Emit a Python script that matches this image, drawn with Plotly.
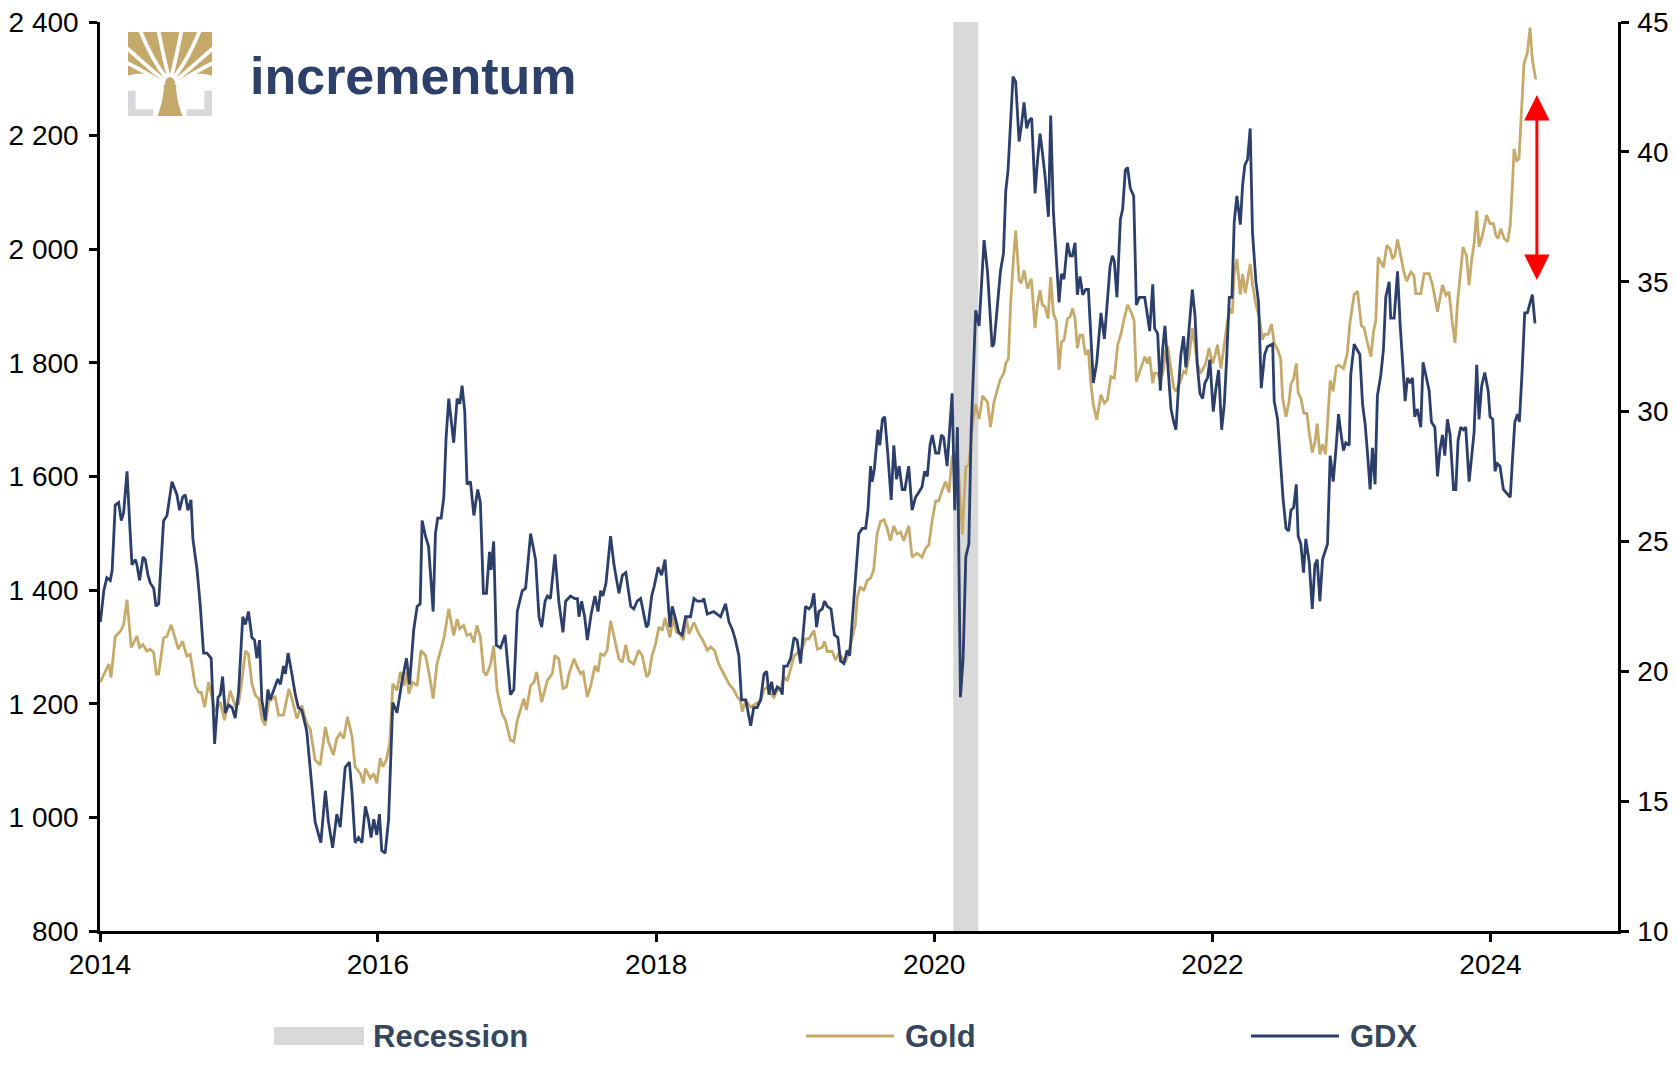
import base64
from datetime import datetime
import plotly.graph_objects as go

# ---------------- DATA (decimal year, value) ----------------
gold_t = [2014.004, 2014.064, 2014.080, 2014.111, 2014.148, 2014.172, 2014.195, 2014.227, 2014.267, 2014.287,
          2014.311, 2014.339, 2014.363, 2014.387, 2014.406, 2014.423, 2014.459, 2014.483, 2014.514, 2014.543,
          2014.567, 2014.596, 2014.627, 2014.651, 2014.687, 2014.711, 2014.730, 2014.754, 2014.783, 2014.831,
          2014.867, 2014.898, 2014.939, 2014.975, 2014.999, 2015.023, 2015.047, 2015.071, 2015.095, 2015.119,
          2015.143, 2015.167, 2015.191, 2015.215, 2015.239, 2015.263, 2015.287, 2015.323, 2015.359, 2015.383,
          2015.418, 2015.454, 2015.490, 2015.514, 2015.550, 2015.586, 2015.622, 2015.646, 2015.682, 2015.706,
          2015.730, 2015.754, 2015.783, 2015.814, 2015.838, 2015.874, 2015.898, 2015.910, 2015.946, 2015.970,
          2015.994, 2016.018, 2016.037, 2016.061, 2016.085, 2016.109, 2016.138, 2016.162, 2016.191, 2016.210,
          2016.222, 2016.251, 2016.282, 2016.311, 2016.342, 2016.373, 2016.397, 2016.426, 2016.450, 2016.474,
          2016.510, 2016.546, 2016.569, 2016.589, 2016.617, 2016.641, 2016.665, 2016.689, 2016.713, 2016.737,
          2016.761, 2016.781, 2016.809, 2016.833, 2016.857, 2016.893, 2016.917, 2016.953, 2016.977, 2017.001,
          2017.049, 2017.066, 2017.097, 2017.121, 2017.140, 2017.176, 2017.217, 2017.253, 2017.272, 2017.301,
          2017.330, 2017.354, 2017.373, 2017.409, 2017.433, 2017.457, 2017.476, 2017.505, 2017.529, 2017.560,
          2017.582, 2017.601, 2017.625, 2017.649, 2017.673, 2017.701, 2017.733, 2017.757, 2017.781, 2017.805,
          2017.840, 2017.876, 2017.900, 2017.932, 2017.948, 2017.972, 2017.996, 2018.020, 2018.044, 2018.064,
          2018.099, 2018.123, 2018.147, 2018.171, 2018.195, 2018.217, 2018.236, 2018.272, 2018.308, 2018.339,
          2018.368, 2018.392, 2018.421, 2018.452, 2018.488, 2018.524, 2018.560, 2018.584, 2018.608, 2018.620,
          2018.644, 2018.680, 2018.716, 2018.752, 2018.776, 2018.800, 2018.824, 2018.848, 2018.872, 2018.896,
          2018.920, 2018.944, 2018.968, 2018.992, 2019.028, 2019.052, 2019.076, 2019.100, 2019.135, 2019.159,
          2019.195, 2019.212, 2019.231, 2019.267, 2019.291, 2019.315, 2019.339, 2019.363, 2019.387, 2019.411,
          2019.435, 2019.447, 2019.471, 2019.495, 2019.519, 2019.543, 2019.567, 2019.591, 2019.615, 2019.639,
          2019.663, 2019.687, 2019.711, 2019.735, 2019.759, 2019.783, 2019.819, 2019.843, 2019.879, 2019.915,
          2019.939, 2019.963, 2019.987, 2020.011, 2020.035, 2020.059, 2020.083, 2020.107, 2020.131, 2020.167,
          2020.203, 2020.227, 2020.251, 2020.275, 2020.298, 2020.323, 2020.347, 2020.383, 2020.407, 2020.431,
          2020.455, 2020.474, 2020.502, 2020.514, 2020.534, 2020.550, 2020.570, 2020.586, 2020.610, 2020.627,
          2020.646, 2020.670, 2020.699, 2020.725, 2020.742, 2020.761, 2020.778, 2020.797, 2020.819, 2020.838,
          2020.857, 2020.879, 2020.898, 2020.915, 2020.934, 2020.958, 2020.977, 2020.994, 2021.011, 2021.030,
          2021.049, 2021.066, 2021.085, 2021.107, 2021.126, 2021.145, 2021.169, 2021.198, 2021.222, 2021.246,
          2021.270, 2021.294, 2021.318, 2021.342, 2021.366, 2021.390, 2021.414, 2021.438, 2021.454, 2021.474,
          2021.490, 2021.514, 2021.534, 2021.550, 2021.570, 2021.586, 2021.606, 2021.625, 2021.649, 2021.665,
          2021.682, 2021.702, 2021.721, 2021.738, 2021.754, 2021.774, 2021.793, 2021.809, 2021.833, 2021.855,
          2021.874, 2021.893, 2021.917, 2021.953, 2021.977, 2022.001, 2022.018, 2022.037, 2022.061, 2022.085,
          2022.109, 2022.128, 2022.145, 2022.157, 2022.176, 2022.200, 2022.217, 2022.236, 2022.253, 2022.272,
          2022.289, 2022.313, 2022.337, 2022.361, 2022.377, 2022.402, 2022.426, 2022.445, 2022.469, 2022.493,
          2022.505, 2022.529, 2022.553, 2022.565, 2022.584, 2022.603, 2022.617, 2022.636, 2022.660, 2022.680,
          2022.696, 2022.720, 2022.737, 2022.756, 2022.773, 2022.792, 2022.816, 2022.847, 2022.871, 2022.893,
          2022.912, 2022.943, 2022.972, 2022.991, 2023.020, 2023.044, 2023.073, 2023.092, 2023.116, 2023.140,
          2023.159, 2023.176, 2023.193, 2023.212, 2023.231, 2023.255, 2023.279, 2023.296, 2023.313, 2023.332,
          2023.356, 2023.380, 2023.399, 2023.428, 2023.452, 2023.464, 2023.500, 2023.524, 2023.560, 2023.584,
          2023.620, 2023.656, 2023.680, 2023.704, 2023.728, 2023.747, 2023.764, 2023.783, 2023.805, 2023.829,
          2023.848, 2023.865, 2023.884, 2023.903, 2023.920, 2023.944, 2023.975, 2023.999, 2024.023, 2024.040,
          2024.056, 2024.075, 2024.099, 2024.124, 2024.143, 2024.159, 2024.171, 2024.191, 2024.207, 2024.219,
          2024.243, 2024.267, 2024.286, 2024.303, 2024.327]
gold_v = [1238, 1270, 1246, 1318, 1328, 1339, 1383, 1299, 1319, 1299,
          1304, 1293, 1296, 1290, 1252, 1252, 1316, 1319, 1339, 1313,
          1296, 1310, 1284, 1287, 1232, 1220, 1220, 1194, 1238, 1186,
          1203, 1171, 1223, 1197, 1200, 1243, 1293, 1287, 1235, 1215,
          1209, 1174, 1162, 1203, 1209, 1212, 1180, 1180, 1226, 1209,
          1174, 1197, 1165, 1156, 1101, 1092, 1159, 1133, 1110, 1139,
          1148, 1139, 1177, 1142, 1089, 1077, 1060, 1086, 1069, 1077,
          1060, 1104, 1089, 1101, 1130, 1235, 1224, 1256, 1232, 1256,
          1218, 1238, 1232, 1294, 1285, 1247, 1209, 1270, 1294, 1314,
          1367, 1320, 1349, 1332, 1338, 1320, 1323, 1308, 1338, 1317,
          1256, 1250, 1270, 1302, 1224, 1183, 1171, 1136, 1133, 1171,
          1209, 1189, 1232, 1238, 1256, 1203, 1241, 1253, 1285, 1279,
          1227, 1229, 1253, 1279, 1264, 1253, 1256, 1212, 1232, 1267,
          1256, 1288, 1285, 1294, 1346, 1317, 1279, 1273, 1304, 1276,
          1270, 1294, 1285, 1247, 1253, 1285, 1305, 1335, 1329, 1351,
          1317, 1352, 1326, 1323, 1312, 1352, 1323, 1343, 1323, 1311,
          1294, 1300, 1294, 1270, 1253, 1235, 1224, 1212, 1206, 1186,
          1206, 1194, 1200, 1205, 1225, 1229, 1218, 1211, 1225, 1222,
          1248, 1240, 1262, 1284, 1292, 1296, 1314, 1314, 1329, 1296,
          1299, 1310, 1292, 1292, 1277, 1288, 1281, 1273, 1292, 1318,
          1340, 1388, 1406, 1399, 1417, 1421, 1436, 1499, 1521, 1524,
          1510, 1487, 1513, 1499, 1502, 1487, 1513, 1458, 1465, 1458,
          1473, 1480, 1524, 1557, 1557, 1576, 1591, 1572, 1635, 1642,
          1498, 1617, 1620, 1687, 1727, 1701, 1742, 1731, 1687, 1731,
          1753, 1770, 1782, 1799, 1808, 1908, 1981, 2033, 1946, 1940,
          1963, 1931, 1948, 1861, 1902, 1928, 1902, 1899, 1878, 1951,
          1887, 1873, 1788, 1837, 1840, 1878, 1881, 1896, 1878, 1826,
          1849, 1849, 1814, 1823, 1767, 1726, 1700, 1744, 1729, 1735,
          1776, 1773, 1832, 1849, 1878, 1902, 1890, 1875, 1767, 1782,
          1791, 1811, 1799, 1811, 1764, 1782, 1782, 1767, 1788, 1823,
          1826, 1788, 1756, 1750, 1758, 1770, 1785, 1782, 1814, 1861,
          1830, 1799, 1781, 1799, 1826, 1799, 1811, 1832, 1790, 1835,
          1871, 1896, 1887, 1956, 1983, 1920, 1956, 1923, 1944, 1974,
          1938, 1902, 1880, 1841, 1850, 1850, 1868, 1835, 1823, 1808,
          1738, 1705, 1732, 1763, 1772, 1799, 1747, 1738, 1711, 1711,
          1678, 1642, 1660, 1693, 1639, 1657, 1639, 1769, 1750, 1793,
          1796, 1790, 1817, 1871, 1920, 1926, 1865, 1862, 1835, 1811,
          1856, 1874, 1986, 1977, 1968, 2007, 2001, 1983, 1989, 2017,
          1989, 1959, 1944, 1960, 1954, 1922, 1922, 1957, 1957, 1937,
          1890, 1937, 1919, 1925, 1870, 1835, 1902, 1954, 2004, 1989,
          1937, 1978, 2010, 2068, 2004, 2025, 2060, 2045, 2045, 2025,
          2019, 2036, 2019, 2013, 2042, 2118, 2177, 2156, 2159, 2223,
          2326, 2346, 2390, 2334, 2299]

gdx_t = [2014.004, 2014.028, 2014.052, 2014.076, 2014.088, 2014.111, 2014.135, 2014.155, 2014.171, 2014.195,
         2014.219, 2014.231, 2014.255, 2014.267, 2014.287, 2014.311, 2014.327, 2014.347, 2014.363, 2014.387,
         2014.404, 2014.423, 2014.459, 2014.483, 2014.519, 2014.543, 2014.555, 2014.574, 2014.596, 2014.615,
         2014.634, 2014.656, 2014.670, 2014.699, 2014.723, 2014.747, 2014.771, 2014.802, 2014.826, 2014.850,
         2014.867, 2014.884, 2014.903, 2014.927, 2014.951, 2014.975, 2014.999, 2015.030, 2015.047, 2015.071,
         2015.095, 2015.114, 2015.131, 2015.150, 2015.167, 2015.191, 2015.210, 2015.227, 2015.251, 2015.282,
         2015.299, 2015.323, 2015.335, 2015.354, 2015.383, 2015.406, 2015.430, 2015.454, 2015.490, 2015.514,
         2015.526, 2015.550, 2015.591, 2015.622, 2015.646, 2015.675, 2015.706, 2015.730, 2015.766, 2015.797,
         2015.814, 2015.838, 2015.862, 2015.886, 2015.910, 2015.934, 2015.953, 2015.970, 2015.994, 2016.013,
         2016.030, 2016.054, 2016.078, 2016.109, 2016.138, 2016.174, 2016.205, 2016.229, 2016.258, 2016.282,
         2016.306, 2016.318, 2016.342, 2016.366, 2016.397, 2016.414, 2016.430, 2016.454, 2016.474, 2016.490,
         2016.510, 2016.546, 2016.569, 2016.589, 2016.605, 2016.625, 2016.641, 2016.665, 2016.689, 2016.718,
         2016.737, 2016.757, 2016.781, 2016.802, 2016.814, 2016.833, 2016.852, 2016.881, 2016.915, 2016.953,
         2016.977, 2017.001, 2017.037, 2017.061, 2017.097, 2017.133, 2017.157, 2017.176, 2017.200, 2017.217,
         2017.241, 2017.272, 2017.301, 2017.330, 2017.349, 2017.385, 2017.414, 2017.433, 2017.445, 2017.464,
         2017.486, 2017.505, 2017.534, 2017.560, 2017.582, 2017.601, 2017.617, 2017.641, 2017.673, 2017.697,
         2017.733, 2017.757, 2017.781, 2017.817, 2017.840, 2017.864, 2017.888, 2017.929, 2017.944, 2017.968,
         2017.989, 2018.016, 2018.040, 2018.064, 2018.099, 2018.116, 2018.140, 2018.164, 2018.188, 2018.212,
         2018.248, 2018.272, 2018.296, 2018.332, 2018.344, 2018.368, 2018.416, 2018.464, 2018.500, 2018.524,
         2018.548, 2018.572, 2018.596, 2018.615, 2018.644, 2018.680, 2018.704, 2018.728, 2018.752, 2018.776,
         2018.795, 2018.812, 2018.831, 2018.848, 2018.872, 2018.896, 2018.908, 2018.920, 2018.944, 2018.968,
         2018.992, 2019.016, 2019.040, 2019.059, 2019.076, 2019.100, 2019.116, 2019.135, 2019.155, 2019.171,
         2019.195, 2019.212, 2019.231, 2019.260, 2019.284, 2019.308, 2019.327, 2019.351, 2019.375, 2019.394,
         2019.411, 2019.435, 2019.459, 2019.483, 2019.507, 2019.524, 2019.543, 2019.555, 2019.572, 2019.596,
         2019.610, 2019.630, 2019.646, 2019.668, 2019.692, 2019.711, 2019.730, 2019.749, 2019.771, 2019.790,
         2019.819, 2019.843, 2019.867, 2019.891, 2019.915, 2019.934, 2019.951, 2019.970, 2019.989, 2020.011,
         2020.035, 2020.052, 2020.071, 2020.095, 2020.111, 2020.131, 2020.150, 2020.167, 2020.191, 2020.210,
         2020.227, 2020.251, 2020.267, 2020.298, 2020.323, 2020.358, 2020.383, 2020.418, 2020.430, 2020.455,
         2020.478, 2020.498, 2020.514, 2020.531, 2020.546, 2020.567, 2020.586, 2020.610, 2020.627, 2020.646,
         2020.665, 2020.682, 2020.701, 2020.725, 2020.742, 2020.761, 2020.778, 2020.797, 2020.821, 2020.838,
         2020.857, 2020.874, 2020.898, 2020.915, 2020.934, 2020.958, 2020.977, 2020.994, 2021.011, 2021.030,
         2021.049, 2021.066, 2021.090, 2021.107, 2021.126, 2021.145, 2021.169, 2021.198, 2021.222, 2021.246,
         2021.265, 2021.282, 2021.294, 2021.313, 2021.337, 2021.354, 2021.373, 2021.390, 2021.409, 2021.433,
         2021.454, 2021.474, 2021.498, 2021.514, 2021.534, 2021.550, 2021.570, 2021.586, 2021.606, 2021.625,
         2021.642, 2021.658, 2021.678, 2021.702, 2021.721, 2021.738, 2021.754, 2021.774, 2021.793, 2021.809,
         2021.833, 2021.855, 2021.874, 2021.893, 2021.912, 2021.929, 2021.946, 2021.965, 2021.982, 2022.006,
         2022.025, 2022.044, 2022.066, 2022.085, 2022.104, 2022.121, 2022.140, 2022.157, 2022.176, 2022.200,
         2022.217, 2022.233, 2022.253, 2022.272, 2022.289, 2022.313, 2022.332, 2022.353, 2022.377, 2022.397,
         2022.433, 2022.445, 2022.469, 2022.488, 2022.509, 2022.529, 2022.548, 2022.565, 2022.584, 2022.603,
         2022.617, 2022.636, 2022.655, 2022.672, 2022.696, 2022.720, 2022.737, 2022.756, 2022.773, 2022.792,
         2022.811, 2022.828, 2022.847, 2022.871, 2022.893, 2022.907, 2022.924, 2022.943, 2022.960, 2022.984,
         2022.996, 2023.020, 2023.039, 2023.063, 2023.080, 2023.099, 2023.116, 2023.135, 2023.152, 2023.171,
         2023.188, 2023.212, 2023.231, 2023.248, 2023.272, 2023.284, 2023.308, 2023.332, 2023.351, 2023.368,
         2023.387, 2023.404, 2023.423, 2023.440, 2023.457, 2023.476, 2023.500, 2023.517, 2023.536, 2023.560,
         2023.577, 2023.601, 2023.620, 2023.637, 2023.656, 2023.673, 2023.692, 2023.711, 2023.735, 2023.752,
         2023.769, 2023.788, 2023.807, 2023.824, 2023.848, 2023.867, 2023.884, 2023.903, 2023.920, 2023.939,
         2023.960, 2023.984, 2023.999, 2024.018, 2024.035, 2024.051, 2024.071, 2024.095, 2024.124, 2024.143,
         2024.159, 2024.176, 2024.195, 2024.210, 2024.227, 2024.248, 2024.267, 2024.286, 2024.303, 2024.322]
gdx_v = [21.9, 23.1, 23.6, 23.5, 23.9, 26.4, 26.5, 25.8, 26.1, 27.7,
         25.4, 24.1, 24.3, 24.1, 23.5, 24.4, 24.3, 23.7, 23.4, 23.2,
         22.5, 22.6, 25.8, 26.0, 27.3, 26.9, 26.8, 26.2, 26.7, 26.8,
         26.2, 26.6, 25.1, 23.9, 22.6, 20.7, 20.7, 20.5, 17.2, 19.0,
         19.1, 19.8, 18.4, 18.7, 18.6, 18.2, 19.2, 22.1, 21.8, 22.3,
         21.3, 21.2, 20.5, 21.2, 18.9, 18.1, 19.3, 18.9, 19.3, 19.7,
         19.5, 20.2, 19.9, 20.7, 19.9, 19.1, 18.6, 18.5, 17.7, 16.3,
         15.6, 14.2, 13.4, 15.4, 14.2, 13.2, 14.5, 14.0, 16.3, 16.5,
         15.3, 13.4, 13.6, 13.4, 14.8, 14.3, 13.6, 14.3, 13.7, 14.5,
         13.1, 13.0, 14.3, 18.8, 18.4, 19.6, 20.5, 19.5, 21.6, 22.5,
         22.6, 25.8, 25.2, 24.8, 22.3, 25.3, 25.9, 25.9, 26.7, 29.0,
         30.5, 28.8, 30.5, 30.3, 31.0, 30.0, 27.2, 27.3, 26.0, 27.0,
         26.5, 23.0, 23.0, 24.6, 23.9, 25.0, 21.0, 20.9, 21.4, 19.1,
         19.3, 22.3, 23.1, 23.2, 25.3, 24.3, 22.1, 21.7, 22.7, 22.9,
         22.8, 24.5, 22.7, 21.5, 22.7, 22.9, 22.8, 22.8, 22.1, 22.7,
         22.1, 21.2, 22.2, 22.9, 22.3, 23.1, 22.9, 23.4, 25.2, 24.1,
         23.0, 23.7, 23.8, 22.5, 22.4, 22.7, 22.8, 21.7, 21.8, 22.9,
         23.3, 24.0, 23.7, 24.3, 21.7, 22.5, 22.0, 21.5, 21.4, 22.1,
         22.1, 22.8, 22.7, 22.7, 22.8, 22.2, 22.3, 22.1, 22.6, 21.9,
         21.6, 21.2, 20.6, 18.9, 18.9, 17.9, 18.6, 18.6, 18.9, 19.9,
         20.0, 19.1, 19.6, 19.1, 19.4, 19.3, 19.1, 20.2, 20.2, 20.5,
         21.3, 21.2, 20.3, 21.5, 22.5, 22.4, 22.5, 23.0, 21.7, 22.3,
         22.4, 22.7, 22.5, 22.4, 21.4, 21.3, 20.4, 20.3, 20.8, 20.6,
         22.0, 23.3, 25.3, 25.5, 25.5, 26.2, 27.9, 27.3, 27.8, 29.3,
         28.7, 29.7, 29.8, 28.4, 26.6, 28.7, 27.4, 27.9, 27.0, 27.0,
         27.9, 26.2, 26.7, 26.9, 27.1, 27.7, 27.5, 28.7, 29.1, 28.4,
         28.4, 29.1, 29.0, 27.9, 29.1, 30.7, 26.2, 29.4, 19.0, 20.5,
         24.4, 24.9, 29.2, 33.9, 33.3, 36.6, 35.4, 32.5, 32.6, 34.2,
         35.4, 36.1, 38.5, 39.3, 40.9, 42.9, 42.7, 40.4, 41.0, 41.9,
         40.9, 41.2, 41.3, 38.4, 39.6, 40.7, 40.0, 39.1, 37.5, 41.4,
         37.7, 36.1, 34.2, 35.3, 35.1, 36.5, 36.0, 36.0, 36.5, 34.5,
         35.2, 34.5, 34.7, 34.7, 33.2, 31.1, 31.9, 33.8, 32.8, 34.5,
         35.6, 36.0, 35.8, 34.4, 37.4, 37.8, 39.3, 39.4, 38.6, 38.3,
         34.1, 34.4, 34.4, 34.4, 33.7, 33.1, 34.9, 33.2, 33.0, 30.8,
         32.4, 33.3, 31.9, 30.1, 29.6, 29.3, 30.8, 32.2, 32.9, 31.7,
         33.3, 34.7, 33.7, 31.8, 30.7, 30.5, 31.1, 31.3, 32.0, 30.0,
         30.9, 31.6, 29.3, 30.3, 32.0, 34.4, 34.4, 37.3, 38.3, 37.2,
         38.7, 39.5, 39.7, 40.9, 36.9, 35.0, 34.2, 30.9, 32.2, 32.5,
         32.6, 30.4, 29.7, 28.0, 26.7, 25.5, 25.4, 26.2, 26.3, 27.2,
         25.2, 24.9, 23.8, 25.1, 24.2, 22.4, 24.1, 24.3, 22.7, 24.3,
         24.6, 24.9, 28.3, 27.3, 28.7, 29.9, 29.2, 28.5, 28.8, 28.7,
         31.4, 32.6, 32.4, 32.2, 30.3, 29.5, 28.4, 27.0, 28.6, 27.2,
         30.6, 31.4, 32.4, 34.4, 35.0, 33.6, 33.6, 35.4, 33.3, 32.0,
         30.4, 31.3, 31.1, 31.3, 29.8, 30.1, 29.4, 31.9, 31.4, 30.8,
         29.6, 29.4, 27.5, 28.5, 29.1, 28.3, 29.7, 29.1, 27.0, 27.0,
         28.9, 29.4, 29.3, 29.4, 27.3, 28.5, 29.2, 31.8, 29.7, 31.0,
         31.5, 30.8, 29.8, 29.7, 27.7, 28.0, 27.9, 27.0, 26.8, 26.7,
         28.2, 29.6, 29.9, 29.6, 31.5, 33.8, 33.8, 34.2, 34.5, 33.4]

recession_start = "2020-02-20"
recession_end = "2020-04-26"

# gap marker (double arrow) between gold and GDX, in left-axis (gold) units
arrow_date = "2024-05-02"
arrow_top = 2274
arrow_bottom = 1946

GOLD = "#c5aa6b"
NAVY = "#2c3f6b"
LEGEND_TXT = "#36475c"
FONT = "Liberation Sans, Arial, sans-serif"


def dec_to_date(t):
    y = int(t)
    a = datetime(y, 1, 1)
    b = datetime(y + 1, 1, 1)
    return (a + (b - a) * (t - y)).strftime("%Y-%m-%d")


gold_x = [dec_to_date(t) for t in gold_t]
gdx_x = [dec_to_date(t) for t in gdx_t]

fig = go.Figure()
fig.add_trace(go.Scatter(x=gold_x, y=gold_v, mode="lines", name="Gold",
                         line=dict(color=GOLD, width=2.8), yaxis="y", showlegend=False))
fig.add_trace(go.Scatter(x=gdx_x, y=gdx_v, mode="lines", name="GDX",
                         line=dict(color=NAVY, width=2.8), yaxis="y2", showlegend=False))

# page has an 8px body margin: figure is sized so the page fits the 1677x1065 window
OFF = 8
W, H = 1661, 1049
ML, MR, MT, MB = 92, 51, 14, 126
PW = W - ML - MR
PH = H - MT - MB


def px(x):
    # window pixel -> paper fraction
    return (x - OFF - ML) / PW


def py(y):
    return (H - MB - (y - OFF)) / PH


shapes = [
    dict(type="rect", xref="x", yref="paper", x0=recession_start, x1=recession_end, y0=0, y1=1,
         fillcolor="#d9d9d9", line=dict(width=0), layer="below"),
    # legend symbols
    dict(type="rect", xref="paper", yref="paper", x0=px(274), x1=px(364), y0=py(1045), y1=py(1027),
         fillcolor="#d9d9d9", line=dict(width=0)),
    dict(type="line", xref="paper", yref="paper", x0=px(806), x1=px(894), y0=py(1036), y1=py(1036),
         line=dict(color=GOLD, width=3)),
    dict(type="line", xref="paper", yref="paper", x0=px(1251), x1=px(1339), y0=py(1036), y1=py(1036),
         line=dict(color=NAVY, width=3)),
]

annotations = [
    dict(text="<b>Recession</b>", xref="paper", yref="paper", x=px(371), y=py(1036), xanchor="left",
         yanchor="middle", showarrow=False, font=dict(family=FONT, size=31, color=LEGEND_TXT)),
    dict(text="<b>Gold</b>", xref="paper", yref="paper", x=px(903), y=py(1036), xanchor="left",
         yanchor="middle", showarrow=False, font=dict(family=FONT, size=31, color=LEGEND_TXT)),
    dict(text="<b>GDX</b>", xref="paper", yref="paper", x=px(1348), y=py(1036), xanchor="left",
         yanchor="middle", showarrow=False, font=dict(family=FONT, size=31, color=LEGEND_TXT)),
    # logo wordmark
    dict(text="<b>incrementum</b>", xref="paper", yref="paper", x=px(248), y=py(76), xanchor="left",
         yanchor="middle", showarrow=False, font=dict(family=FONT, size=52, color="#2d4069")),
    # double-headed red arrow
    dict(text="", x=arrow_date, y=arrow_bottom, ax=arrow_date, ay=arrow_top,
         xref="x", yref="y", axref="x", ayref="y", showarrow=True,
         arrowside="end+start", arrowhead=2, startarrowhead=2,
         arrowsize=1.7, startarrowsize=1.7, arrowwidth=3, arrowcolor="#ff0000"),
]

# logo icon as inline SVG
svg = """<svg xmlns='http://www.w3.org/2000/svg' viewBox='0 0 100 100' width='100' height='100'>
<g fill='#d8d8da'>
<rect x='0' y='70' width='9' height='30'/><rect x='0' y='92' width='30' height='8'/>
<rect x='91' y='70' width='9' height='30'/><rect x='70' y='92' width='30' height='8'/>
</g>
<g fill='#c4a96b'>
<path d='M0,0 H100 V52 C84,47 64,50 58,64 H42 C36,50 16,47 0,52 Z'/>
<path d='M35,100 C41,86 43,72 43,56 L57,56 C57,72 59,86 65,100 Z'/>
</g>
<g fill='none' stroke='#ffffff' stroke-width='4.5' stroke-linecap='round'>
<path d='M48,52 C44,36 40,18 36,-3'/>
<path d='M52,52 C56,36 60,18 64,-3'/>
<path d='M45,54 C34,40 24,22 14,-3'/>
<path d='M55,54 C66,40 76,22 86,-3'/>
<path d='M43,57 C28,46 14,32 -3,18'/>
<path d='M57,57 C72,46 86,32 103,18'/>
<path d='M42,61 C30,54 14,44 -3,36'/>
<path d='M58,61 C70,54 86,44 103,36'/>
</g>
</svg>"""
svg_uri = "data:image/svg+xml;base64," + base64.b64encode(svg.encode()).decode()

images = [dict(source=svg_uri, xref="paper", yref="paper", x=px(128), y=py(32),
               sizex=84 / PW, sizey=84 / PH, xanchor="left", yanchor="top",
               sizing="stretch", layer="above")]

axis_common = dict(showline=True, linecolor="black", linewidth=2.5, ticks="outside", ticklen=8,
                   tickwidth=2.5, tickcolor="black", showgrid=False, zeroline=False, automargin=False,
                   ticklabeloverflow="allow",
                   tickfont=dict(family=FONT, size=28, color="black"))

fig.update_layout(
    width=W, height=H,
    margin=dict(l=ML, r=MR, t=MT, b=MB, autoexpand=False),
    paper_bgcolor="white", plot_bgcolor="white",
    separators=". ",
    showlegend=False,
    font=dict(family=FONT, color="black"),
    xaxis=dict(type="date", range=["2014-01-01", "2024-12-01"], tick0="2014-01-01", dtick="M24",
               tickformat="%Y", ticklabelstandoff=-1, **axis_common),
    yaxis=dict(range=[800, 2400], dtick=200, tickformat=",d", ticklabelstandoff=5, **axis_common),
    yaxis2=dict(range=[10, 45], dtick=5, overlaying="y", side="right", anchor="x",
                ticklabelstandoff=3, **axis_common),
    shapes=shapes,
    annotations=annotations,
    images=images,
)

fig.write_html("out.html")
